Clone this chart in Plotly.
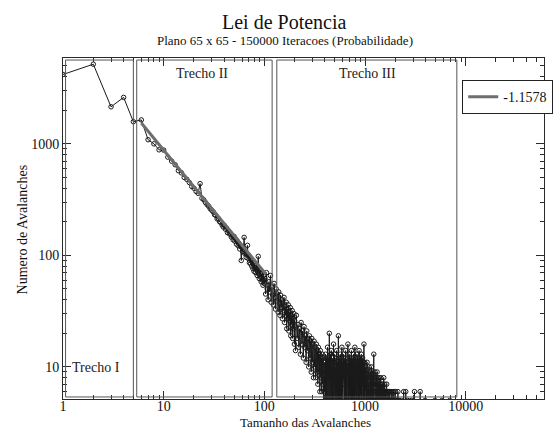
import plotly.graph_objects as go

# ---------------- data ----------------
sizes_a = list(range(1, 101))
counts_a = [4190, 5180, 2150, 2610, 1580, 1640, 1090, 1000, 884, 880,
            760, 700, 650, 575, 550, 500, 480, 450, 415, 400,
            375, 360, 440, 325, 315, 298, 285, 276, 262, 254,
            246, 232, 228, 212, 214, 200, 198, 188, 180, 186,
            172, 176, 160, 166, 156, 158, 146, 150, 138, 148,
            134, 140, 126, 134, 122, 128, 114, 122, 90, 118,
            108, 114, 145, 104, 106, 96, 102, 123, 94, 100,
            86, 96, 84, 92, 80, 90, 76, 86, 72, 84,
            78, 70, 82, 74, 66, 76, 98, 68, 62, 74,
            64, 74, 58, 68, 60, 70, 54, 66, 60, 56]

sizes_b1 = list(range(101, 200, 2))
counts_b1 = [62, 45, 70, 50, 40, 58, 47, 66, 38, 52,
             44, 36, 56, 42, 33, 50, 39, 45, 31, 47,
             37, 29, 44, 34, 40, 27, 38, 32, 42, 25,
             35, 29, 38, 22, 33, 27, 36, 21, 31, 26,
             34, 19, 29, 24, 32, 18, 27, 22, 30, 16]

sizes_b2 = list(range(200, 400, 4))
counts_b2 = [26, 14, 29, 18, 24, 15, 22, 13, 25, 16,
             21, 12, 23, 15, 19, 11, 21, 14, 18, 10,
             19, 12, 17, 9, 18, 11, 16, 8, 17, 10,
             15, 8, 16, 9, 14, 7, 15, 9, 13, 6,
             14, 8, 12, 6, 13, 7, 12, 4, 11, 6]

sizes_c = list(range(400, 1000, 3))
counts_c = [11, 3, 13, 9, 2, 12, 8, 4, 15, 10, 3, 9, 12, 2, 20, 8, 4, 11, 13, 3,
            9, 14, 2, 10, 7, 4, 12, 9, 3, 16, 8, 2, 11, 13, 4, 9, 10, 3, 12, 8,
            2, 14, 9, 4, 11, 7, 3, 10, 19, 2, 9, 12, 4, 8, 11, 3, 13, 9, 2, 10,
            12, 4, 8, 15, 3, 9, 11, 2, 10, 7, 4, 13, 9, 3, 11, 8, 2, 12, 10, 4,
            9, 14, 3, 8, 11, 2, 10, 9, 4, 12, 7, 3, 16, 9, 2, 11, 8, 4, 10, 13,
            3, 9, 7, 2, 12, 10, 4, 8, 11, 3, 9, 14, 2, 10, 7, 4, 11, 9, 3, 12,
            8, 2, 10, 13, 4, 9, 7, 3, 11, 8, 2, 15, 9, 4, 10, 7, 3, 12, 8, 2,
            11, 9, 4, 7, 13, 3, 10, 8, 2, 9, 12, 4, 7, 10, 3, 11, 8, 2, 14, 9,
            4, 10, 7, 3, 12, 8, 2, 9, 11, 4, 7, 10, 3, 13, 8, 2, 9, 11, 4, 7,
            10, 3, 12, 8, 2, 9, 7, 4, 11, 8, 3, 10, 16, 2, 8, 9, 4, 11, 7, 3]

sizes_d = list(range(1000, 2200, 6))
counts_d = [9, 3, 7, 10, 2, 8, 5, 3, 11, 6, 2, 8, 9, 4, 7, 2, 10, 6, 3, 8,
            5, 2, 9, 7, 3, 6, 10, 2, 7, 4, 8, 5, 2, 9, 6, 3, 7, 13, 2, 6,
            8, 3, 5, 9, 2, 7, 4, 6, 8, 2, 5, 7, 3, 9, 6, 2, 5, 8, 4, 6,
            2, 7, 5, 3, 8, 6, 2, 5, 7, 3, 6, 2, 8, 5, 4, 6, 2, 7, 5, 3,
            6, 2, 5, 7, 3, 6, 4, 2, 5, 8, 3, 6, 2, 5, 4, 7, 2, 5, 3, 6,
            2, 5, 4, 6, 2, 3, 5, 7, 2, 4, 6, 3, 5, 2, 6, 4, 2, 5, 3, 6,
            2, 4, 5, 3, 6, 2, 5, 3, 2, 6, 4, 5, 2, 3, 5, 2, 6, 3, 4, 5,
            2, 3, 6, 2, 5, 4, 2, 5, 3, 2, 6, 4, 2, 5, 3, 5, 2, 4, 6, 2,
            3, 5, 2, 4, 2, 5, 3, 2, 6, 2, 4, 5, 2, 3, 2, 5, 4, 2, 3, 5,
            2, 4, 2, 5, 3, 2, 4, 6, 2, 3, 2, 5, 2, 4, 3, 2, 5, 2, 3, 2]

sizes_e = [2230, 2290, 2350, 2420, 2470, 2540, 2600, 2650, 2720, 2800,
           2880, 2950, 3030, 3100, 3200, 3300, 3400, 3530, 3650, 3800,
           3950, 4200, 4500, 4950, 5400, 5800, 6300, 6950]
counts_e = [2, 5, 1, 6, 2, 6, 1, 5, 2, 1,
            5, 1, 2, 6, 1, 2, 1, 6, 1, 2,
            5, 1, 1, 5, 1, 5, 1, 5]

fit_x = [6.0, 104.0]
fit_y = [1540.0, 67.6]
fit_label = "-1.1578"

region_names = ["Trecho I", "Trecho II", "Trecho III"]
region_x0 = [1.06, 5.4, 133.0]
region_x1 = [5.0, 119.5, 8170.0]

x_ticks = [1, 10, 100, 1000, 10000]
y_ticks = [10, 100, 1000]

sizes = sizes_a + sizes_b1 + sizes_b2 + sizes_c + sizes_d + sizes_e
counts = counts_a + counts_b1 + counts_b2 + counts_c + counts_d + counts_e

FONT = "Liberation Serif, Times New Roman, serif"
AX = "#2a2a2a"

fig = go.Figure()
fig.add_trace(go.Scatter(
    x=sizes, y=counts, mode="lines+markers",
    line=dict(color="#1a1a1a", width=1),
    marker=dict(symbol="circle-open", size=4.5, color="#1a1a1a", line=dict(width=1)),
    showlegend=False, hoverinfo="skip"))
fig.add_trace(go.Scatter(
    x=fit_x, y=fit_y, mode="lines", name=fit_label,
    line=dict(color="#6e6e6e", width=3)))

for name, x0, x1 in zip(region_names, region_x0, region_x1):
    fig.add_shape(type="rect", xref="x", yref="paper", x0=x0, x1=x1, y0=0.006, y1=0.994,
                  line=dict(color="#555555", width=1), fillcolor="rgba(0,0,0,0)", layer="above")

lab_font = dict(family=FONT, size=14, color="#222")
fig.add_annotation(xref="x", yref="paper", x=0.33, y=0.091, text=region_names[0],
                   showarrow=False, font=lab_font, xanchor="center", yanchor="middle")
fig.add_annotation(xref="x", yref="paper", x=1.38, y=0.955, text=region_names[1],
                   showarrow=False, font=lab_font, xanchor="center", yanchor="middle")
fig.add_annotation(xref="x", yref="paper", x=3.02, y=0.955, text=region_names[2],
                   showarrow=False, font=lab_font, xanchor="center", yanchor="middle")

# titles
fig.add_annotation(xref="paper", yref="paper", x=0.461, y=1.107, text="Lei de Potencia",
                   showarrow=False, font=dict(family=FONT, size=20, color="#111"),
                   xanchor="center", yanchor="middle")
fig.add_annotation(xref="paper", yref="paper", x=0.461, y=1.050,
                   text="Plano 65 x 65 - 150000 Iteracoes (Probabilidade)",
                   showarrow=False, font=dict(family=FONT, size=13, color="#111"),
                   xanchor="center", yanchor="middle")
# axis titles
fig.add_annotation(xref="paper", yref="paper", x=0.504, y=0, yshift=-32,
                   text="Tamanho das Avalanches", showarrow=False,
                   font=dict(family=FONT, size=13, color="#111"),
                   xanchor="center", yanchor="bottom", borderpad=0)
fig.add_annotation(xref="paper", yref="paper", x=-0.084, y=0.496,
                   text="Numero de Avalanches", showarrow=False, textangle=-90,
                   font=dict(family=FONT, size=14, color="#111"),
                   xanchor="center", yanchor="middle")

axis_common = dict(
    type="log", showgrid=False, zeroline=False, automargin=False,
    showline=True, linecolor=AX, linewidth=1, mirror="ticks",
    ticks="inside", ticklen=8, tickwidth=1, tickcolor=AX,
    exponentformat="none",
    tickfont=dict(family=FONT, size=14, color="#111"),
    minor=dict(ticks="inside", ticklen=4, tickwidth=1, tickcolor=AX, dtick="D1", showgrid=False),
)

fig.update_layout(
    width=558, height=431,
    margin=dict(l=63, r=5, t=58, b=32),
    paper_bgcolor="white", plot_bgcolor="white",
    font=dict(family=FONT, color="#111"),
    xaxis=dict(axis_common, range=[0, 4.778], tickvals=x_ticks, ticktext=[str(v) for v in x_ticks],
               ticklabelstandoff=-6),
    yaxis=dict(axis_common, range=[0.712, 3.770], tickvals=y_ticks, ticktext=[str(v) for v in y_ticks]),
    legend=dict(x=0.83, y=0.935, xanchor="left", yanchor="top",
                bordercolor="#222", borderwidth=1, bgcolor="white",
                font=dict(family=FONT, size=14, color="#111"),
                itemwidth=30, tracegroupgap=0),
)

fig.write_html("out.html")
